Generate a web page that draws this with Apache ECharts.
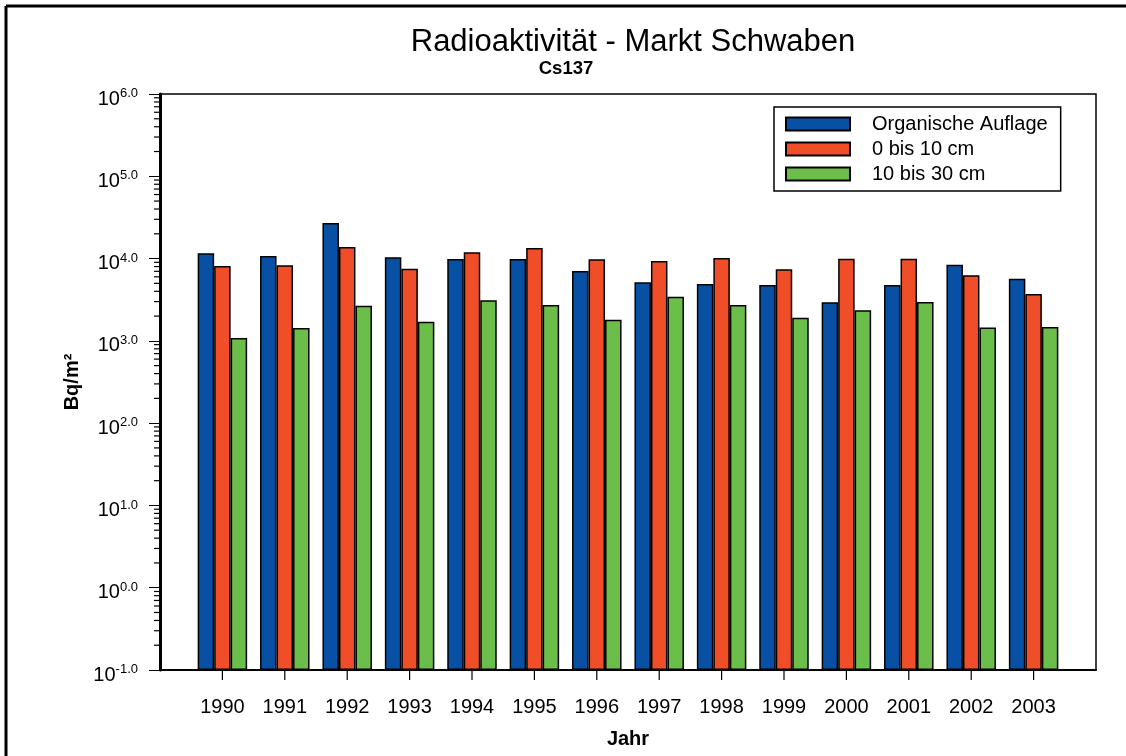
<!DOCTYPE html>
<html>
<head>
<meta charset="utf-8">
<script src="https://cdn.jsdelivr.net/npm/echarts@6/dist/echarts.min.js"></script>
<style>
html,body{margin:0;padding:0;background:#fff;}
#chart{width:1126px;height:756px;}
</style>
</head>
<body>
<div id="chart"></div>
<script>
const years = [1990,1991,1992,1993,1994,1995,1996,1997,1998,1999,2000,2001,2002,2003];
const organischeAuflage = [11600,10760,27100,10370,9890,9890,7060,5150,4910,4780,2940,4780,8440,5700];
const bis10cm = [8130,8300,13840,7540,11930,13450,9800,9350,10170,7410,9970,9970,6270,3720];
const bis30cm = [1085,1435,2680,1710,3110,2730,1810,3440,2730,1910,2350,2970,1450,1475];
const seriesNames = ['Organische Auflage','0 bis 10 cm','10 bis 30 cm'];
const colors = ['#0850A3','#F04E28','#6CBE4A'];
const titleText = 'Radioaktivität - Markt Schwaben';
const subtitleText = 'Cs137';
const xName = 'Jahr';
const yName = 'Bq/m²';
const minorMultipliers = [2,3,4,5,6,7,8,9];
const decades = [0.1,1,10,100,1000,10000,100000];

const FONT = '"Liberation Sans", Arial, sans-serif';
const X_MIN = 1989, X_MAX = 2004, Y_MIN = 0.1, Y_MAX = 1000000;

// tick marks: [x, y, kind] kind 0 = y minor tick, 1 = x category tick
const tickRows = [];
decades.forEach(d => minorMultipliers.forEach(m => tickRows.push([X_MIN, d * m, 0])));
years.forEach(y => tickRows.push([y, 0.2, 1]));

function pairs(vals){ return years.map((y,i)=>[y, vals[i]]); }
function barSeries(i, vals){
  return {
    type:'bar', name:seriesNames[i], data:pairs(vals),
    barWidth:16.5, barGap:'0%',
    itemStyle:{color:colors[i], borderColor:'#000', borderWidth:1.5},
    emphasis:{disabled:true}
  };
}

const chart = echarts.init(document.getElementById('chart'), null, {renderer:'canvas'});
chart.setOption({
  animation:false,
  backgroundColor:'#fff',
  title:[
    {text:titleText, left:633, top:27, textAlign:'center', padding:0,
     textStyle:{fontFamily:FONT, fontSize:31, fontWeight:'normal', color:'#000'}},
    {text:subtitleText, left:566, top:59, textAlign:'center', padding:0,
     textStyle:{fontFamily:FONT, fontSize:18.5, fontWeight:'bold', color:'#000'}}
  ],
  legend:{
    orient:'vertical', left:774, top:107,
    data:seriesNames,
    itemWidth:64, itemHeight:13, itemGap:5,
    padding:[7,13,7,11],
    borderColor:'#000', borderWidth:1.5, backgroundColor:'#fff',
    icon:'rect',
    textStyle:{fontFamily:FONT, fontSize:20, color:'#000', lineHeight:20, padding:[0,0,0,17]}
  },
  grid:{left:160, top:94, width:936, height:576, show:true, borderColor:'#000', borderWidth:1.5, containLabel:false},
  xAxis:{
    type:'value', min:X_MIN, max:X_MAX, interval:1,
    name:xName, nameLocation:'middle', nameGap:59,
    nameTextStyle:{fontFamily:FONT, fontSize:20, fontWeight:'bold', color:'#000'},
    axisLine:{show:true, lineStyle:{color:'#000', width:2}},
    axisTick:{show:false},
    axisLabel:{fontFamily:FONT, fontSize:20, color:'#000', margin:27, showMinLabel:true, showMaxLabel:true,
      formatter: v => (years.indexOf(Math.round(v)) >= 0 ? String(Math.round(v)) : '')},
    splitLine:{show:false}
  },
  yAxis:{
    type:'log', logBase:10, min:Y_MIN, max:Y_MAX, startValue:Y_MIN,
    name:yName, nameLocation:'middle', nameGap:75, nameRotate:90,
    nameTextStyle:{fontFamily:FONT, fontSize:20, fontWeight:'bold', color:'#000'},
    axisLine:{show:true, lineStyle:{color:'#000', width:3}},
    axisTick:{show:true, length:11, lineStyle:{color:'#000', width:1}},
    splitLine:{show:false},
    axisLabel:{
      margin:22, showMinLabel:true, showMaxLabel:true, padding:[8,0,0,0],
      formatter: v => '{b|10}{s|' + Math.log10(v).toFixed(1) + '}',
      rich:{
        b:{fontFamily:FONT, fontSize:20, color:'#000', lineHeight:22, verticalAlign:'bottom'},
        s:{fontFamily:FONT, fontSize:13, color:'#000', lineHeight:13, verticalAlign:'top'}
      }
    }
  },
  series:[
    barSeries(0, organischeAuflage),
    barSeries(1, bis10cm),
    barSeries(2, bis30cm),
    {
      type:'custom', name:'ticks', silent:true, clip:false, z:50, zlevel:1,
      data:tickRows,
      dimensions:['x','y','kind'],
      encode:{x:0, y:1},
      renderItem:(params, api) => {
        const kind = api.value(2);
        if (kind === 1) {
          const p = api.coord([api.value(0), Y_MIN]);
          return {type:'line', shape:{x1:p[0], y1:p[1] + 1, x2:p[0], y2:p[1] + 10}, style:{stroke:'#000', lineWidth:1.2}};
        }
        const q = api.coord([api.value(0), api.value(1)]);
        return {type:'line', shape:{x1:q[0]-6, y1:q[1], x2:q[0], y2:q[1]}, style:{stroke:'#000', lineWidth:1.2}};
      }
    }
  ],
  graphic:[
    {type:'line', silent:true, z:100, shape:{x1:6, y1:6, x2:1126, y2:6}, style:{stroke:'#000', lineWidth:3}},
    {type:'line', silent:true, z:100, shape:{x1:6, y1:6, x2:6, y2:756}, style:{stroke:'#000', lineWidth:3}}
  ]
});
</script>
</body>
</html>
